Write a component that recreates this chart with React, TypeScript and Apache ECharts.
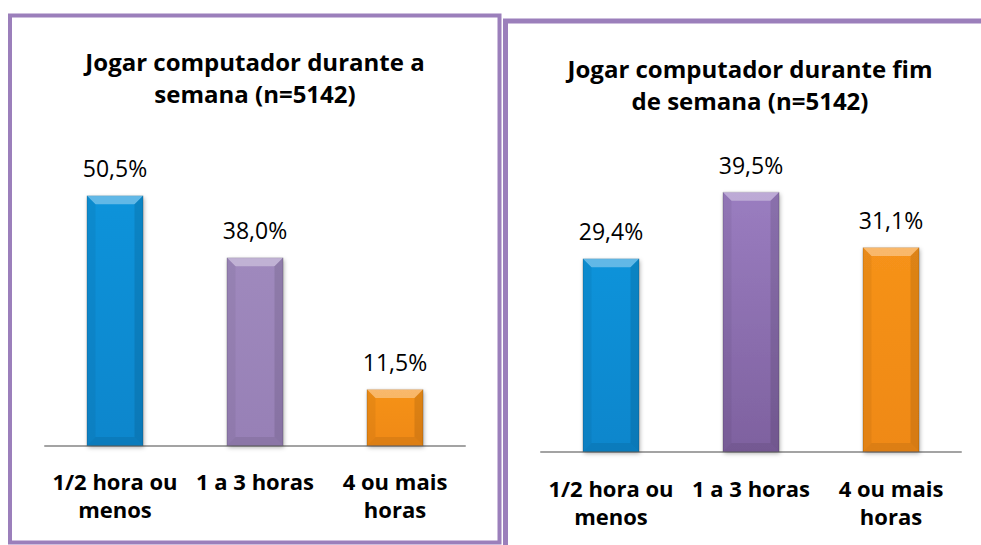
import React, { useEffect, useRef } from "react";
import * as echarts from "echarts";

const categories = ["1/2 hora ou\nmenos", "1 a 3 horas", "4 ou mais\nhoras"];
const weekValues = [50.5, 38.0, 11.5];
const weekendValues = [29.4, 39.5, 31.1];
const titleWeek = "Jogar computador durante a\nsemana (n=5142)";
const titleWeekend = "Jogar computador durante fim\nde semana (n=5142)";

const FONT = "'Open Sans', Lato, sans-serif";
const BAR_W = 57;

function vFill(top: string, bottom: string) {
  return new echarts.graphic.LinearGradient(0, 0, 0, 1, [
    { offset: 0, color: top },
    { offset: 1, color: bottom },
  ]);
}

const weekColors = [
  vFill("#1093da", "#0a86cc"),
  vFill("#9f89bd", "#9780b6"),
  vFill("#f6921a", "#ef8912"),
];
const weekendColors = [
  vFill("#1093da", "#0a86cc"),
  vFill("#9a7dc0", "#7e619f"),
  vFill("#f6921a", "#ef8912"),
];

const fmt = (p: any) => p.value.toFixed(1).replace(".", ",") + "%";

function makeSeries(values: number[], colors: any[], idx: number) {
  return {
    type: "bar",
    xAxisIndex: idx,
    yAxisIndex: idx,
    barWidth: BAR_W,
    data: values.map((v, i) => ({
      value: v,
      itemStyle: {
        color: colors[i],
        borderColor: "rgba(0,0,0,0.15)",
        borderWidth: 1,
        shadowBlur: 4,
        shadowColor: "rgba(0,0,0,0.3)",
        shadowOffsetX: 1,
        shadowOffsetY: 2,
      },
    })),
    label: {
      show: true,
      position: "top",
      distance: 14,
      formatter: fmt,
      fontFamily: FONT,
      fontSize: 23,
      lineHeight: 26,
      color: "#000",
    },
  };
}

function makeBevel(values: number[], idx: number) {
  return {
    type: "custom",
    xAxisIndex: idx,
    yAxisIndex: idx,
    silent: true,
    z: 3,
    data: values.map((v, i) => [i, v]),
    renderItem: (params: any, api: any) => {
      const top = api.coord([api.value(0), api.value(1)]);
      const base = api.coord([api.value(0), 0]);
      const x0 = top[0] - BAR_W / 2;
      const x1 = top[0] + BAR_W / 2;
      const y0 = top[1];
      const y1 = base[1];
      const b = 9;
      return {
        type: "group",
        children: [
          {
            type: "polygon",
            shape: { points: [[x0, y0], [x1, y0], [x1 - b, y0 + b], [x0 + b, y0 + b]] },
            style: { fill: "rgba(255,255,255,0.35)" },
          },
          {
            type: "polygon",
            shape: { points: [[x0, y0], [x0 + b, y0 + b], [x0 + b, y1 - b], [x0, y1]] },
            style: { fill: "rgba(0,0,0,0.05)" },
          },
          {
            type: "polygon",
            shape: { points: [[x1, y0], [x1 - b, y0 + b], [x1 - b, y1 - b], [x1, y1]] },
            style: { fill: "rgba(0,0,0,0.1)" },
          },
          {
            type: "polygon",
            shape: { points: [[x0, y1], [x0 + b, y1 - b], [x1 - b, y1 - b], [x1, y1]] },
            style: { fill: "rgba(0,0,0,0.08)" },
          },
        ],
      };
    },
  };
}

export default function App() {
  const ref = useRef<HTMLDivElement>(null);
  useEffect(() => {
    if (!ref.current) return;
    const chart = echarts.init(ref.current, null, { renderer: "svg" });
    const axisCommon = (margin: number) => ({
      type: "category",
      data: categories,
      axisLine: { lineStyle: { color: "#a3a3a3", width: 2 } },
      axisTick: { show: false },
      axisLabel: {
        interval: 0,
        margin,
        fontFamily: FONT,
        fontSize: 22,
        fontWeight: "bold",
        lineHeight: 28,
        color: "#000",
      },
    });
    const titleStyle = { fontFamily: FONT, fontSize: 24, fontWeight: "bold", lineHeight: 32, color: "#000" };
    chart.setOption({
      animation: false,
      backgroundColor: "#fff",
      title: [
        { text: titleWeek, left: 255, top: 45, textAlign: "center", padding: 0, textStyle: titleStyle },
        { text: titleWeekend, left: 750, top: 52, textAlign: "center", padding: 0, textStyle: titleStyle },
      ],
      grid: [
        { left: 45, width: 420, top: 148, height: 298 },
        { left: 541, width: 420, top: 155.4, height: 296.6 },
      ],
      xAxis: [
        { ...axisCommon(21), gridIndex: 0 },
        { ...axisCommon(22), gridIndex: 1 },
      ],
      yAxis: [
        { type: "value", gridIndex: 0, min: 0, max: 60, show: false },
        { type: "value", gridIndex: 1, min: 0, max: 45, show: false },
      ],
      graphic: [
        {
          type: "rect",
          shape: { x: 10, y: 15.5, width: 489.5, height: 527 },
          style: { fill: "none", stroke: "#9b7fbb", lineWidth: 4 },
          z: 10,
        },
        {
          type: "rect",
          shape: { x: 505.5, y: 21, width: 520, height: 560 },
          style: { fill: "none", stroke: "#9b7fbb", lineWidth: 5 },
          z: 10,
        },
      ],
      series: [
        makeSeries(weekValues, weekColors, 0),
        makeSeries(weekendValues, weekendColors, 1),
        makeBevel(weekValues, 0),
        makeBevel(weekendValues, 1),
      ],
    });
    return () => chart.dispose();
  }, []);
  return (
    <div
      ref={ref}
      style={{ position: "absolute", left: 0, top: 0, width: 981, height: 545 }}
    />
  );
}
